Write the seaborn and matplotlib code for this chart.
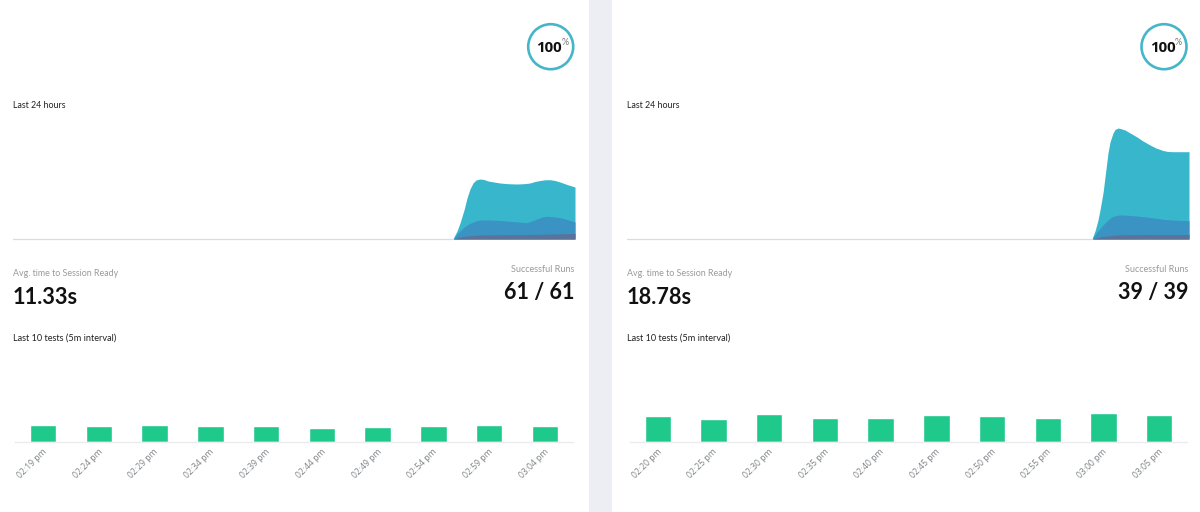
import matplotlib
matplotlib.use("Agg")
import matplotlib.pyplot as plt
import pandas as pd
import seaborn as sns
from matplotlib.patches import Circle, Rectangle
from matplotlib.transforms import ScaledTranslation

# last 24 hours areas, left card (x along the chart, height above baseline)
left_top_x = [453, 457, 460, 464, 467, 470, 473, 476, 480, 484, 488, 494, 500, 508, 517, 524, 530, 535, 540, 545, 550, 555, 560, 567, 575]
left_top_y = [0, 8, 16, 29, 41, 50, 56, 59, 60, 59.5, 58, 57, 56, 55.3, 55, 55.3, 56, 57.5, 58.5, 59.2, 59.3, 58.5, 57, 54.5, 52]
left_mid_x = [453, 458, 463, 468, 472, 476, 480, 488, 497, 512, 527, 532, 537, 542, 547, 553, 560, 567, 575]
left_mid_y = [0, 6, 11, 14.5, 16.5, 18, 19, 19, 18.7, 17.5, 16.3, 18, 20, 22, 22.7, 22.2, 21.3, 19.5, 17]
left_low_x = [453, 463, 472, 480, 505, 530, 555, 575]
left_low_y = [0, 2.5, 3.5, 4, 4.3, 4.5, 5, 5.5]

# same for the right card
right_top_x = [1092, 1095, 1098, 1100, 1103, 1105, 1108, 1110, 1113, 1115, 1118, 1121, 1125, 1131, 1137, 1143, 1150, 1156, 1163, 1168, 1173, 1180, 1189]
right_top_y = [0, 8, 19, 29, 46, 62, 86, 97, 106, 109.5, 111, 110.3, 109, 105.5, 102, 98, 94, 91, 88.5, 87.5, 87.3, 87.3, 87.3]
right_mid_x = [1092, 1097, 1103, 1108, 1112, 1116, 1120, 1128, 1137, 1150, 1163, 1175, 1189]
right_mid_y = [0, 7, 14, 19, 22, 23.5, 24, 23.7, 23, 21.5, 19.7, 18.8, 18.3]
right_low_x = [1092, 1103, 1112, 1120, 1150, 1189]
right_low_y = [0, 2.5, 3.5, 4.2, 4.5, 4.5]

# last 10 tests bars
left_times = ["02:19 pm", "02:24 pm", "02:29 pm", "02:34 pm", "02:39 pm", "02:44 pm", "02:49 pm", "02:54 pm", "02:59 pm", "03:04 pm"]
left_bars = [16.7, 15.7, 17, 16.2, 15.7, 14.2, 14.7, 15.7, 16.7, 15.7]
right_times = ["02:20 pm", "02:25 pm", "02:30 pm", "02:35 pm", "02:40 pm", "02:45 pm", "02:50 pm", "02:55 pm", "03:00 pm", "03:05 pm"]
right_bars = [25.7, 22.7, 27.7, 23.7, 23.7, 27.2, 25.7, 24.2, 28.7, 27.2]

TEAL = "#38b6cc"
MID_BLUE = "#3a93c2"
DARK_BLUE = "#5b7299"
GREEN = "#1fc98b"

W, H = 1200, 512
sns.set_theme(style="white")
plt.rcParams["font.family"] = ["Lato", "DejaVu Sans"]
fig = plt.figure(figsize=(W / 100, H / 100), dpi=100, facecolor="white")


def add_axes_px(x0, y0, x1, y1):
    # y0 is the top edge, counted from the top of the image like the picture
    ax = fig.add_axes([x0 / W, 1 - y1 / H, (x1 - x0) / W, (y1 - y0) / H])
    ax.patch.set_alpha(0)
    return ax


# page layer in pixels, for the gutter, rings and labels
page = add_axes_px(0, 0, W, H)
page.set_xlim(0, W)
page.set_ylim(H, 0)
page.axis("off")
page.add_patch(Rectangle((589, 0), 23, H, color="#eceef4", lw=0))


def draw_area(x0, x1, start, top, mid, low):
    ax = add_axes_px(x0, 109, x1, 239)
    ax.set_xlim(x0, x1)
    ax.set_ylim(0, 130)
    sns.lineplot(x=[x0, start], y=[0, 0], color="#dcdcde", lw=0.9, ax=ax, clip_on=False)
    for (xs, ys), col in zip((top, mid, low), (TEAL, MID_BLUE, DARK_BLUE)):
        ax.fill_between(xs, ys, 0, color=col, lw=0)
    ax.axis("off")


def draw_bars(x0, x1, times, vals):
    ax = add_axes_px(x0, 370, x1, 442)
    df = pd.DataFrame({"time": times, "value": vals})
    sns.barplot(data=df, x="time", y="value", color=GREEN, saturation=1, width=0.475, ax=ax)
    ax.set_ylim(0, 72)
    ax.set_xlabel("")
    ax.set_ylabel("")
    ax.set_yticks([])
    ax.tick_params(axis="x", length=0, pad=3.5)
    shift = ScaledTranslation(-1 / 100, 0, fig.dpi_scale_trans)
    for lab in ax.get_xticklabels():
        lab.set_rotation(45)
        lab.set_ha("right")
        lab.set_rotation_mode("anchor")
        lab.set_fontsize(6.2)
        lab.set_color("#7f8286")
        lab.set_fontfamily(["Open Sans", "DejaVu Sans"])
        lab.set_transform(lab.get_transform() + shift)
    sns.despine(ax=ax, left=True, top=True, right=True)
    ax.spines["bottom"].set_color("#ebebed")
    ax.spines["bottom"].set_linewidth(1)


def draw_text(left, right, ring_x, avg, runs):
    page.add_patch(Circle((ring_x, 46.7), 22.5, fill=False, ec="#45b6c9", lw=1.9))
    page.text(ring_x - 1.5, 47.5, "100", ha="center", va="center", fontsize=10.8, fontweight="bold",
              color="#111111", family=["Open Sans", "DejaVu Sans"])
    page.text(ring_x + 14, 42.5, "%", ha="center", va="center", fontsize=6.5, color="#777777")
    page.text(left, 106, "Last 24 hours", ha="left", va="center", fontsize=6.4, color="#222222")
    page.text(left, 273, "Avg. time to Session Ready", ha="left", va="center", fontsize=6.4, color="#9a9a9e")
    page.text(left, 297, avg, ha="left", va="center", fontsize=15.7, fontweight="bold", color="#111111")
    page.text(right - 1, 270, "Successful Runs", ha="right", va="center", fontsize=6.5, color="#9a9a9e")
    page.text(right, 292, runs, ha="right", va="center", fontsize=15.5, fontweight="bold", color="#111111")
    page.text(left, 338, "Last 10 tests (5m interval)", ha="left", va="center", fontsize=6.6, color="#222222")


draw_area(13, 575, 453, (left_top_x, left_top_y), (left_mid_x, left_mid_y), (left_low_x, left_low_y))
draw_area(627, 1189, 1092, (right_top_x, right_top_y), (right_mid_x, right_mid_y), (right_low_x, right_low_y))
draw_bars(15.1, 572.9, left_times, left_bars)
draw_bars(630, 1187, right_times, right_bars)
draw_text(13, 575, 550.7, "11.33s", "61 / 61")
draw_text(627, 1189, 1164, "18.78s", "39 / 39")

fig.savefig("out.png", dpi=100)
